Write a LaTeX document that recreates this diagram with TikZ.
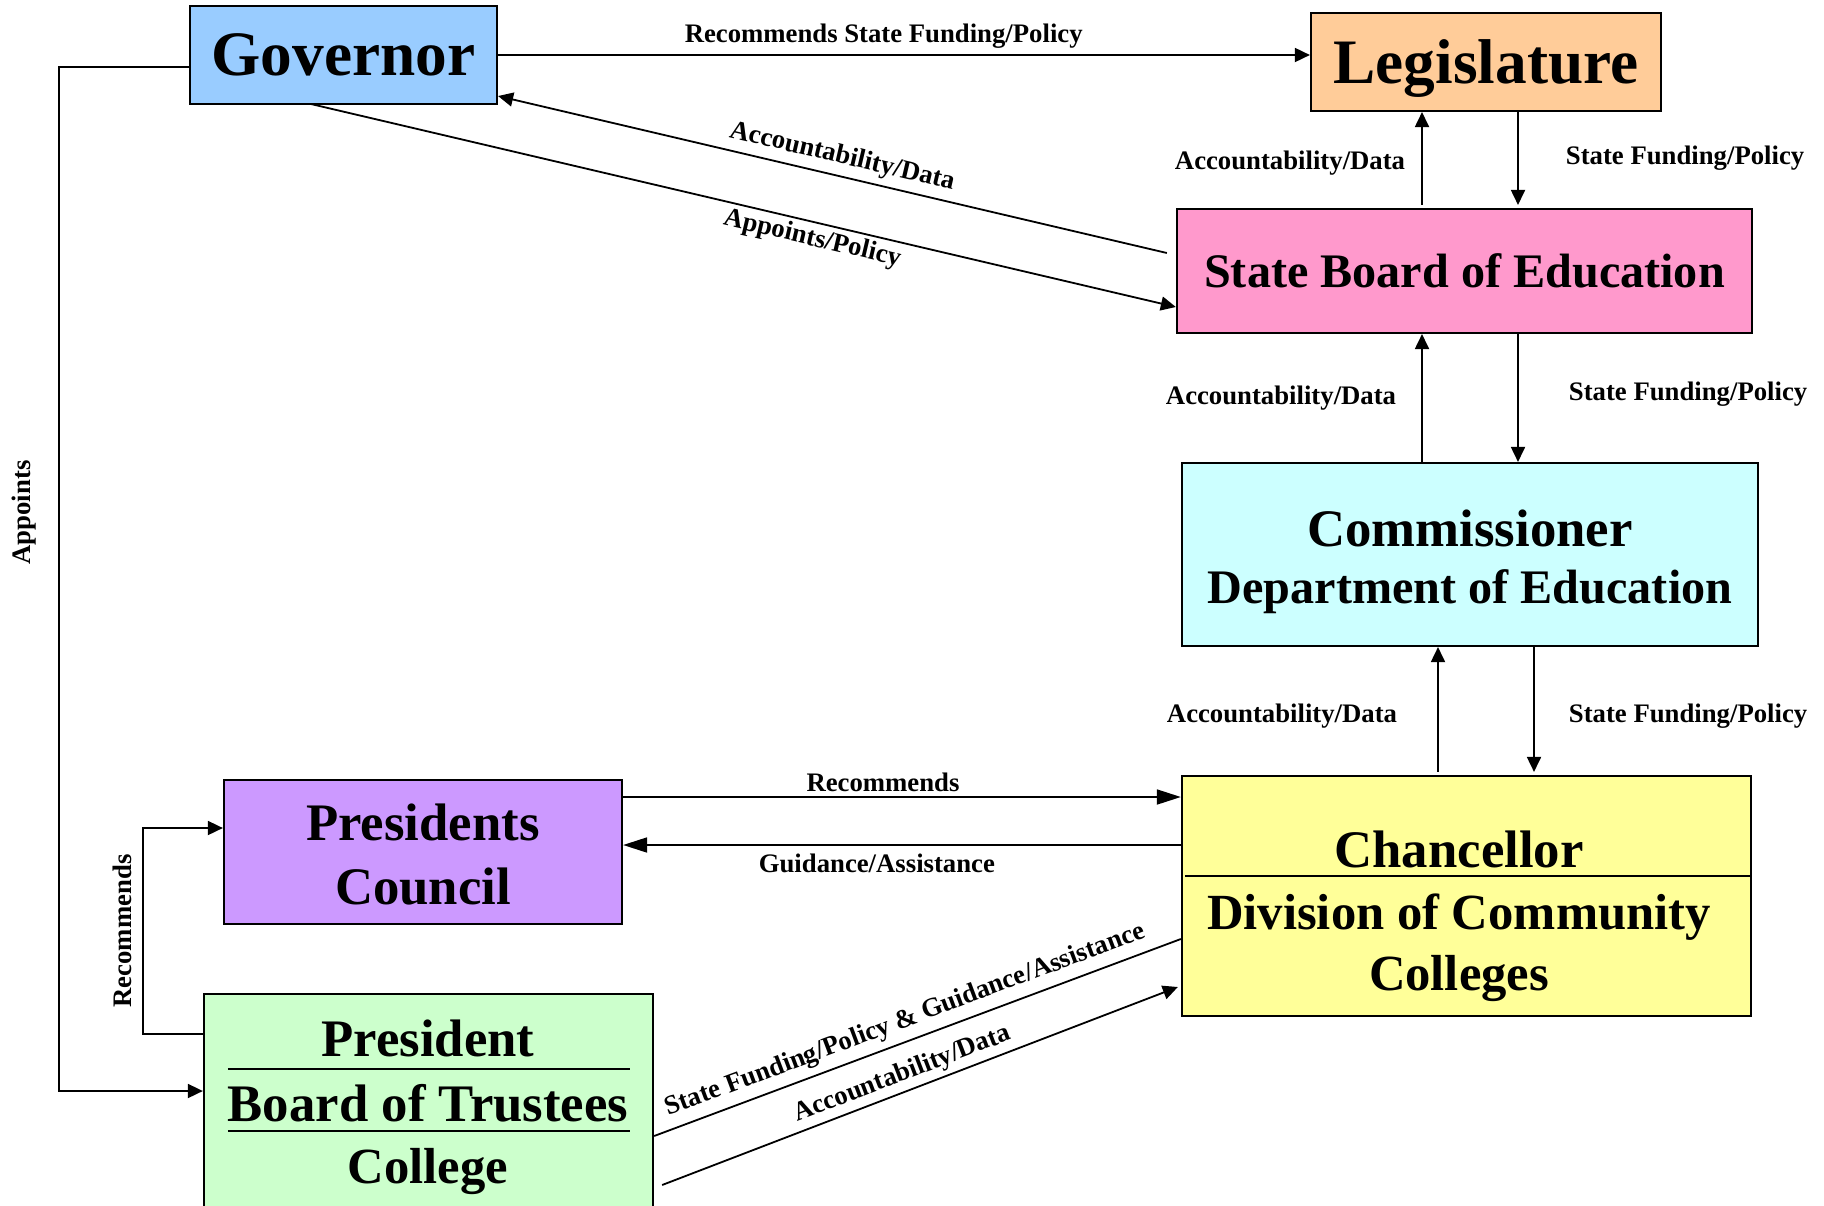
\documentclass[tikz,border=0pt]{standalone}
\usepackage{fontspec}
\setmainfont{Liberation Serif}
\usetikzlibrary{arrows.meta}

\definecolor{govblue}{HTML}{99CCFF}
\definecolor{legorange}{HTML}{FFCC99}
\definecolor{sbepink}{HTML}{FF99CC}
\definecolor{comcyan}{HTML}{CCFFFF}
\definecolor{chanyellow}{HTML}{FFFF99}
\definecolor{pcpurple}{HTML}{CC99FF}
\definecolor{colgreen}{HTML}{CCFFCC}

\begin{document}
\begin{tikzpicture}[x=0.01cm,y=-0.01cm]
   \useasboundingbox (0,0) rectangle (1824,1206);
   \begin{scope}[every node/.style={rectangle,draw=black,line width=0.02cm,inner sep=0pt,text depth=0pt}]
    \node[fill=govblue,minimum width=3.07cm,minimum height=0.98cm,font=\fontsize{18}{20}\bfseries] (gov) at (343.5,55) {Governor};
    \node[fill=legorange,minimum width=3.5cm,minimum height=0.98cm,font=\fontsize{18}{20}\bfseries] (leg) at (1486,62) {Legislature};
    \node[fill=sbepink,minimum width=5.75cm,minimum height=1.24cm,font=\fontsize{13.7}{16}\bfseries] (sbe) at (1464.5,271) {State Board of Education};
    \node[fill=comcyan,minimum width=5.76cm,minimum height=1.83cm] (com) at (1470,554.5) {};
    \node[fill=chanyellow,minimum width=5.69cm,minimum height=2.4cm] (chan) at (1466.5,896) {};
    \node[fill=pcpurple,minimum width=3.98cm,minimum height=1.44cm] (pc) at (423,852) {};
    \node[fill=colgreen,minimum width=4.49cm,minimum height=2.32cm] (col) at (428.5,1110) {};
   \end{scope}
   \begin{scope}[every node/.style={anchor=base,inner sep=0pt,font=\fontsize{15}{18}\bfseries}]
    \node (comT1) at (1470,546) {Commissioner};
    \node[font=\fontsize{13.7}{16}\bfseries] (comT2) at (1470,603) {Department of Education};
    \node (pcT1) at (423,840) {Presidents};
    \node (pcT2) at (423,904) {Council};
    \node (colT1) at (428,1056) {President};
    \node (colT2) at (428,1121) {Board of Trustees};
    \node[font=\fontsize{14.4}{17}\bfseries] (colT3) at (428,1183) {College};
    \node (chanT1) at (1459,867) {Chancellor};
    \node[font=\fontsize{14.4}{17}\bfseries] (chanT2) at (1459,929) {Division of Community};
    \node[font=\fontsize{14.4}{17}\bfseries] (chanT3) at (1459,990) {Colleges};
   \end{scope}
   % rules inside the boxes
   \draw[line width=0.02cm] ([shift={(25,-41)}]col.west) -- ([shift={(-24,-41)}]col.east);
   \draw[line width=0.02cm] ([shift={(25,21)}]col.west) -- ([shift={(-24,21)}]col.east);
   \draw[line width=0.02cm] ([shift={(4,-20)}]chan.west) -- ([shift={(0,-20)}]chan.east);
   \begin{scope}[every node/.style={inner sep=0pt,font=\fontsize{7.6}{9}\bfseries},
                 arr/.style={line width=0.018cm,-{Triangle[length=0.15cm,width=0.14cm]}},
                 rarr/.style={line width=0.018cm,{Triangle[length=0.15cm,width=0.14cm]}-},
                 bigarr/.style={line width=0.018cm,-{Triangle[length=0.24cm,width=0.15cm]}}]
    \draw[arr] (gov.east) -- node[pos=0.475,above=0.06cm]{Recommends State Funding/Policy} (gov.east -| leg.west);
    \draw[rarr] ([shift={(0,-9)}]gov.south east) -- node[pos=0.508,sloped,above=0.06cm]{Accountability/Data} ([shift={(-9,-18)}]sbe.west);
    \draw[arr] ([shift={(-32.5,-1)}]gov.south) -- node[pos=0.584,sloped,below=0.04cm]{Appoints/Policy} ([shift={(0,36)}]sbe.west);
    \draw[arr] ([shift={(-42.5,-3)}]sbe.north) -- node[midway,left=0.16cm,yshift=-0.05cm]{Accountability/Data} ([shift={(-64,0)}]leg.south);
    \draw[arr] ([shift={(32,0)}]leg.south) -- node[midway,right=0.47cm]{State Funding/Policy} ([shift={(53.5,-3)}]sbe.north);
    \draw[arr] ([shift={(-48,0)}]com.north) -- node[midway,left=0.25cm]{Accountability/Data} ([shift={(-42.5,0)}]sbe.south);
    \draw[arr] ([shift={(53.5,0)}]sbe.south) -- node[midway,right=0.5cm,yshift=0.035cm]{State Funding/Policy} ([shift={(48,0)}]com.north);
    \draw[arr] ([shift={(-28.5,-3)}]chan.north) -- node[midway,left=0.4cm,yshift=-0.07cm]{Accountability/Data} ([shift={(-32,0)}]com.south);
    \draw[arr] ([shift={(64,0)}]com.south) -- node[midway,right=0.34cm,yshift=-0.07cm]{State Funding/Policy} ([shift={(67.5,-3)}]chan.north);
    \draw[bigarr] ([shift={(0,-55)}]pc.east) -- node[pos=0.466,above=0.04cm]{Recommends} ([shift={(0,-99)}]chan.west);
    \draw[bigarr] ([shift={(0,-51)}]chan.west) -- node[pos=0.545,below=0.08cm]{Guidance/Assistance} ([shift={(0,-7)}]pc.east);
    \draw[line width=0.018cm] ([shift={(0,26)}]col.east) -- node[pos=0.49,sloped,above=0.07cm]{State Funding/Policy \& Guidance/Assistance} ([shift={(0,43)}]chan.west);
    \draw[arr] ([shift={(8,75)}]col.east) -- node[pos=0.478,sloped,above=0.04cm]{Accountability/Data} ([shift={(-3,91)}]chan.west);
    \draw[arr] ([shift={(0,12)}]gov.west) -- ++(-130,0) -- node[pos=0.435,xshift=-0.22cm,rotate=90,anchor=south]{Appoints} ++(0,1024) -- ([shift={(0,-19)}]col.west);
    \draw[arr] ([shift={(0,-76)}]col.west) -- ++(-60,0) -- node[midway,xshift=-0.1cm,rotate=90,anchor=south]{Recommends} ++(0,-206) -- ([shift={(0,-24)}]pc.west);
   \end{scope}
\end{tikzpicture}
\end{document}
